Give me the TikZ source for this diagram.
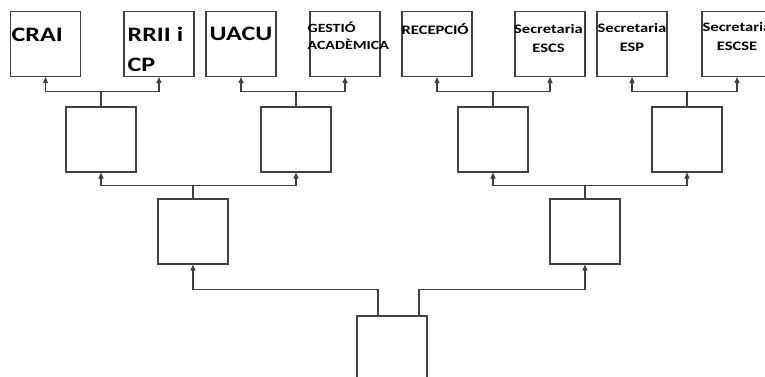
\documentclass[tikz,border=0pt]{standalone}
\usepackage{fontspec}
\newfontfamily\boxfont{Carlito}[FakeStretch=1.27]
\usetikzlibrary{arrows.meta}

\tikzset{
  box/.style={draw=black!75, line width=1.1pt, minimum width=70pt,
    minimum height=65pt, inner sep=0pt},
  arr/.style={draw=black!75, line width=1.1pt,
    -{Triangle[length=6pt,width=5pt]}},
  biglbl/.style={inner sep=0pt, align=left,
    font=\boxfont\bfseries\fontsize{20.5}{30}\selectfont},
  smalllbl/.style={inner sep=0pt, align=center,
    font=\boxfont\bfseries\fontsize{13}{19}\selectfont}
}

\begin{document}
\begin{tikzpicture}[x=1pt,y=-1pt]
\clip (0,0) rectangle (765,377);
% draw the boxes of the top row
\foreach \n/\x in {crai/45.5,rrii/159,uacu/241,gestio/345,recepcio/437,escs/550,esp/632,escse/737}
\node[box] (\n) at (\x,44) {};
% draw the empty boxes below them
\foreach \n/\x in {grup1/101,grup2/296,grup3/493,grup4/687}
\node[box] (\n) at (\x,139.5) {};
\node[box] (area1) at (193,231.5) {};
\node[box] (area2) at (585,231.5) {};
\node[box] (root) at (392,348.5) {};

% draw the texts of the top row
\node[biglbl, anchor=base west] (crai-t) at ([xshift=1.5pt,yshift=-30.5pt]crai.north west) {CRAI};
\node[biglbl, anchor=base west] (rrii-t) at ([xshift=4pt,yshift=-60.5pt]rrii.north west) {RRII i\\CP};
\node[biglbl, anchor=base] (uacu-t) at ([yshift=-29.5pt]uacu.north) {UACU};
\node[smalllbl, align=left, anchor=base west, font=\boxfont\bfseries\fontsize{12.5}{17}\selectfont]
  (gestio-t) at ([xshift=-2pt,yshift=-38.5pt]gestio.north west) {GESTIÓ\\ACADÈMICA};
\node[smalllbl, anchor=base west] (recepcio-t) at ([xshift=0pt,yshift=-23.5pt]recepcio.north west) {RECEPCIÓ};
\node[smalllbl, anchor=base] (escs-t) at ([xshift=-1.5pt,yshift=-41.5pt]escs.north) {Secretaria\\ESCS};
\node[smalllbl, anchor=base] (esp-t) at ([yshift=-40.5pt]esp.north) {Secretaria\\ESP};
\node[smalllbl, anchor=base] (escse-t) at ([yshift=-40pt]escse.north) {Secretaria\\ESCSE};

% draw the connectors
\foreach \p/\a/\b in {grup1/crai/rrii,grup2/uacu/gestio,grup3/recepcio/escs,grup4/esp/escse}{
  \draw[arr] (\p.north) -- ++(0,-15) -| (\a.south);
  \draw[arr] (\p.north) -- ++(0,-15) -| (\b.south);
}
\foreach \p/\a/\b in {area1/grup1/grup2,area2/grup3/grup4}{
  \draw[arr] (\p.north) -- ++(0,-13) -| (\a.south);
  \draw[arr] (\p.north) -- ++(0,-13) -| (\b.south);
}
\draw[arr] ([xshift=-14pt]root.north) -- ++(0,-26) -| (area1.south);
\draw[arr] ([xshift=27pt]root.north) -- ++(0,-26) -| (area2.south);
\end{tikzpicture}
\end{document}
